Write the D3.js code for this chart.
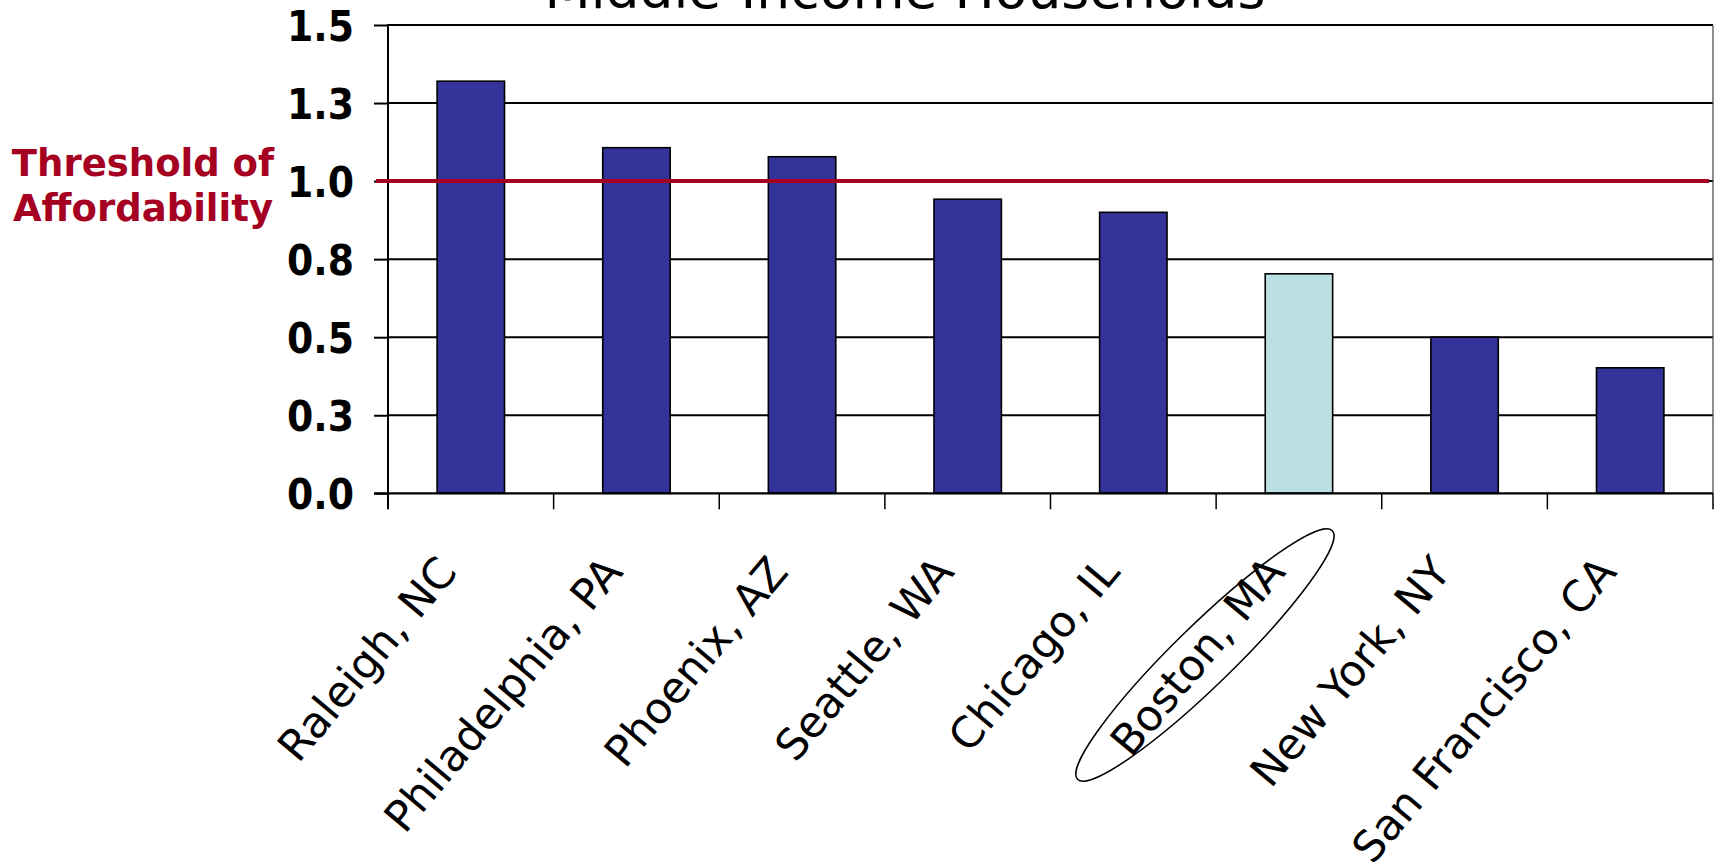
<!DOCTYPE html>
<html>
<head>
<meta charset="utf-8">
<script src="https://cdn.jsdelivr.net/npm/d3@7"></script>
<style>
  html, body { margin: 0; padding: 0; background: #ffffff; }
  svg { display: block; }
</style>
</head>
<body>
<script>
// Affordability index for middle-income households, by metro area
const categories = ["Raleigh, NC", "Philadelphia, PA", "Phoenix, AZ", "Seattle, WA",
                    "Chicago, IL", "Boston, MA", "New York, NY", "San Francisco, CA"];
const values = [1.32, 1.107, 1.078, 0.942, 0.90, 0.703, 0.50, 0.402];
const highlighted = ["Boston, MA"];
const yTicks = [0, 0.25, 0.5, 0.75, 1.0, 1.25, 1.5];
const yTickLabels = ["0.0", "0.3", "0.5", "0.8", "1.0", "1.3", "1.5"];
const threshold = 1.0;
const thresholdLabel = ["Threshold of", "Affordability"];
const title = "Middle-Income Households";

const W = 1717, H = 862;
const plot = { left: 388, right: 1713, top: 25, bottom: 493.3 };
const RED = "#A50021", BLUE = "#333399", LIGHT = "#BBE0E3";

const svg = d3.select("body").append("svg")
  .attr("width", W).attr("height", H);

const x = d3.scaleBand()
  .domain(categories)
  .range([plot.left, plot.right])
  .paddingInner(0.593)
  .paddingOuter(0.2965);

const y = d3.scaleLinear()
  .domain([0, 1.5])
  .range([plot.bottom, plot.top]);

const step = x.step();
const edgeStart = plot.left;

// title, running off the top edge
svg.append("text")
  .attr("x", 905).attr("y", 8)
  .attr("text-anchor", "middle")
  .style("font-family", "'DejaVu Sans', Verdana, sans-serif")
  .style("font-size", "53.5px")
  .attr("fill", "#000")
  .text(title);

// horizontal gridlines
svg.append("g").selectAll("line")
  .data(yTicks.filter(d => d > 0))
  .join("line")
  .attr("x1", plot.left).attr("x2", plot.right)
  .attr("y1", d => y(d)).attr("y2", d => y(d))
  .attr("stroke", "#000").attr("stroke-width", 2);

// right border of plot area
svg.append("line")
  .attr("x1", plot.right).attr("x2", plot.right)
  .attr("y1", y(1.5)).attr("y2", y(0))
  .attr("stroke", "#444").attr("stroke-width", 1.2);

// bars
svg.append("g").selectAll("rect")
  .data(categories)
  .join("rect")
  .attr("x", d => x(d))
  .attr("width", x.bandwidth())
  .attr("y", (d, i) => y(values[i]))
  .attr("height", (d, i) => y(0) - y(values[i]))
  .attr("fill", d => highlighted.includes(d) ? LIGHT : BLUE)
  .attr("stroke", "#000")
  .attr("stroke-width", 1.6);

// y axis with condensed bold labels
const yAxis = svg.append("g")
  .attr("transform", `translate(${plot.left},0)`)
  .call(d3.axisLeft(y)
    .tickValues(yTicks)
    .tickSize(14)
    .tickSizeOuter(0)
    .tickFormat((d, i) => yTickLabels[i]));
yAxis.select(".domain").remove();
yAxis.selectAll(".tick line").attr("stroke", "#000").attr("stroke-width", 2);
yAxis.selectAll(".tick text")
  .attr("x", -34 / 0.9)
  .attr("dy", "0.36em")
  .attr("transform", "scale(0.9,1)")
  .style("font-family", "'DejaVu Sans', Tahoma, sans-serif")
  .style("font-weight", "bold")
  .style("font-size", "42px")
  .attr("fill", "#000");

// left axis line, running down to the category tick
svg.append("line")
  .attr("x1", plot.left).attr("x2", plot.left)
  .attr("y1", y(1.5) - 1).attr("y2", y(0) + 16)
  .attr("stroke", "#000").attr("stroke-width", 2);

// baseline
svg.append("line")
  .attr("x1", plot.left - 14).attr("x2", plot.right)
  .attr("y1", y(0)).attr("y2", y(0))
  .attr("stroke", "#000").attr("stroke-width", 2.2);

// category boundary ticks
svg.append("g").selectAll("line")
  .data(d3.range(1, categories.length + 1))
  .join("line")
  .attr("x1", i => edgeStart + i * step).attr("x2", i => edgeStart + i * step)
  .attr("y1", y(0)).attr("y2", y(0) + 16)
  .attr("stroke", "#000").attr("stroke-width", 1.5);

// threshold line
svg.append("line")
  .attr("x1", plot.left - 12).attr("x2", plot.right - 4)
  .attr("y1", y(threshold)).attr("y2", y(threshold))
  .attr("stroke", RED).attr("stroke-width", 4);

// threshold label
svg.append("text")
  .attr("x", 143).attr("y", 176)
  .attr("text-anchor", "middle")
  .style("font-family", "'DejaVu Sans', Verdana, sans-serif")
  .style("font-weight", "bold")
  .style("font-size", "37px")
  .attr("fill", RED)
  .selectAll("tspan")
  .data(thresholdLabel)
  .join("tspan")
  .attr("x", 143)
  .attr("dy", (d, i) => i === 0 ? 0 : 45)
  .text(d => d);

// rotated category labels
const angle = -50;
svg.append("g").selectAll("text")
  .data(categories)
  .join("text")
  .attr("transform", d => `translate(${x(d) + x.bandwidth() / 2 - 12},573) rotate(${angle})`)
  .attr("text-anchor", "end")
  .style("font-family", "'DejaVu Sans', Verdana, sans-serif")
  .style("font-size", "43px")
  .attr("fill", "#000")
  .text(d => d);

// ellipse circling the highlighted city's label
highlighted.forEach(c => {
  const cx = x(c) + x.bandwidth() / 2 - 94;
  svg.append("ellipse")
    .attr("transform", `translate(${cx},655) rotate(-44.3)`)
    .attr("rx", 178).attr("ry", 30)
    .attr("fill", "none")
    .attr("stroke", "#000")
    .attr("stroke-width", 1.5);
});
</script>
</body>
</html>
